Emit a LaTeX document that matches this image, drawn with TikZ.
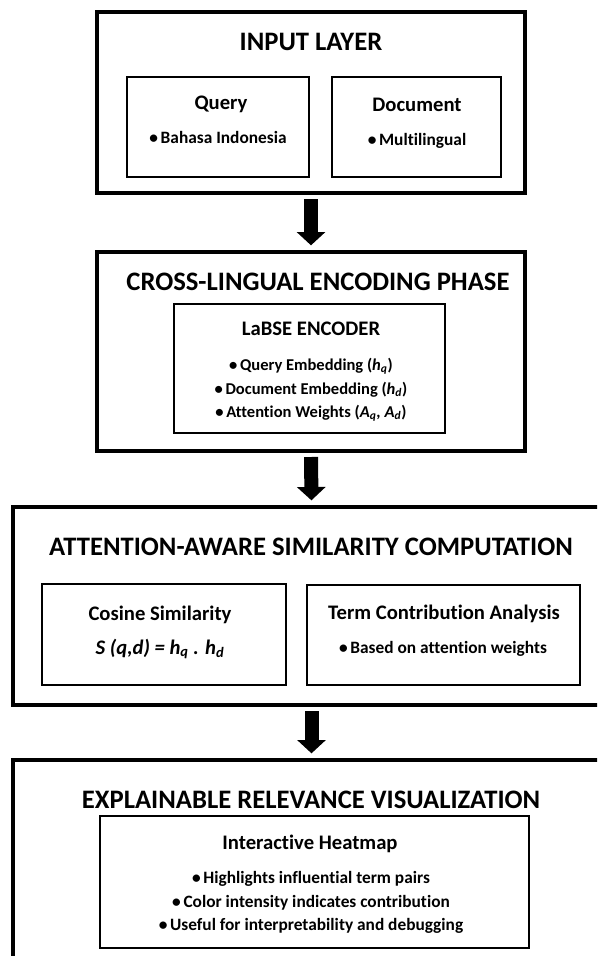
\documentclass[tikz,border=0pt]{standalone}
\usepackage{fontspec}
\setmainfont{Carlito}[Ligatures=NoCommon]
\usetikzlibrary{arrows.meta}
\usetikzlibrary{fit}

\begin{document}
\begin{tikzpicture}[x=0.75pt,y=-0.75pt,
		outerbox/.style={draw,line width=2.3pt,inner sep=0pt,outer sep=0pt},
		innerbox/.style={draw,line width=1.4pt,inner sep=0pt,outer sep=0pt},
		title/.style={anchor=base,font=\fontsize{20}{24}\selectfont\bfseries},
		head/.style={anchor=base,font=\fontsize{15.5}{18}\selectfont\bfseries},
		item/.style={anchor=base,font=\fontsize{13}{16}\selectfont\bfseries},
		smallitem/.style={anchor=base,font=\fontsize{12.4}{15}\selectfont\bfseries},
		blockarrow/.style={line width=10.5pt,-{Triangle[length=10pt,width=21pt]},shorten <=4.5pt,shorten >=5pt}]
			\useasboundingbox (0,0) rectangle (597,956);
			\clip (0,0) rectangle (597,956);
			% input layer
			\node[outerbox,fit={(97,12) (525,193)}] (inlayer) {};
			\node[title] (intitle) at (311,51) {INPUT LAYER};
			\node[innerbox,fit={(127,77) (309,177)}] (qbox) {};
			\node[innerbox,fit={(332,77) (501,177)}] (dbox) {};
			\node[head] (qhead) at (221,109) {Query};
			\node[item] (qitem) at (218,143) {\textbullet\hspace{2pt}Bahasa Indonesia};
			\node[head] (dhead) at (417,111) {Document};
			\node[item] (ditem) at (417,145) {\textbullet\hspace{2pt}Multilingual};
			% encoding phase
			\node[outerbox,fit={(97,252) (525,451)}] (encphase) {};
			\node[title] (enctitle) at (318,290) {CROSS-LINGUAL ENCODING PHASE};
			\node[innerbox,fit={(174,304) (445,433)}] (labse) {};
			\node[head] (lhead) at (311,335) {LaBSE ENCODER};
			\node[smallitem] (litem1) at (311,370) {\textbullet\hspace{2pt}Query Embedding (\textit{h}\textsubscript{\textit{q}})};
			\node[smallitem] (litem2) at (311,394) {\textbullet\hspace{2pt}Document Embedding (\textit{h}\textsubscript{\textit{d}})};
			\node[smallitem] (litem3) at (311,417) {\textbullet\hspace{2pt}Attention Weights (\textit{A}\textsubscript{\textit{q}}\textit{, A}\textsubscript{\textit{d}})};
			% similarity
			\node[outerbox,fit={(13,507) (610,705)}] (simphase) {};
			\node[title] (simtitle) at (311,555) {ATTENTION-AWARE SIMILARITY COMPUTATION};
			\node[innerbox,fit={(42,584) (286,685)}] (cosbox) {};
			\node[innerbox,fit={(307,585) (580,685)}] (termbox) {};
			\node[head] (coshead) at (160,620) {Cosine Similarity};
			\node[head] (cosform) at (160,654) {\itshape S (q,d) = h\textsubscript{q} . h\textsubscript{d}};
			\node[head] (termhead) at (444,619) {Term Contribution Analysis};
			\node[item] (termitem) at (443,653) {\textbullet\hspace{2pt}Based on attention weights};
			% visualization
			\node[outerbox,fit={(13,760) (610,975)}] (visphase) {};
			\node[title] (vistitle) at (311,808) {EXPLAINABLE RELEVANCE VISUALIZATION};
			\node[innerbox,fit={(100,816) (529,948)}] (heatbox) {};
			\node[head] (heathead) at (310,849) {Interactive Heatmap};
			\node[item] (heatitem1) at (311,883) {\textbullet\hspace{2pt}Highlights influential term pairs};
			\node[item] (heatitem2) at (311,907) {\textbullet\hspace{2pt}Color intensity indicates contribution};
			\node[item] (heatitem3) at (311,930) {\textbullet\hspace{2pt}Useful for interpretability and debugging};
			% arrows
			\draw[blockarrow] (inlayer.south) -- (encphase.north);
			\draw[blockarrow] (encphase.south) -- (simphase.north);
			\draw[blockarrow] (simphase.south) -- (visphase.north);
		\end{tikzpicture}
\end{document}
